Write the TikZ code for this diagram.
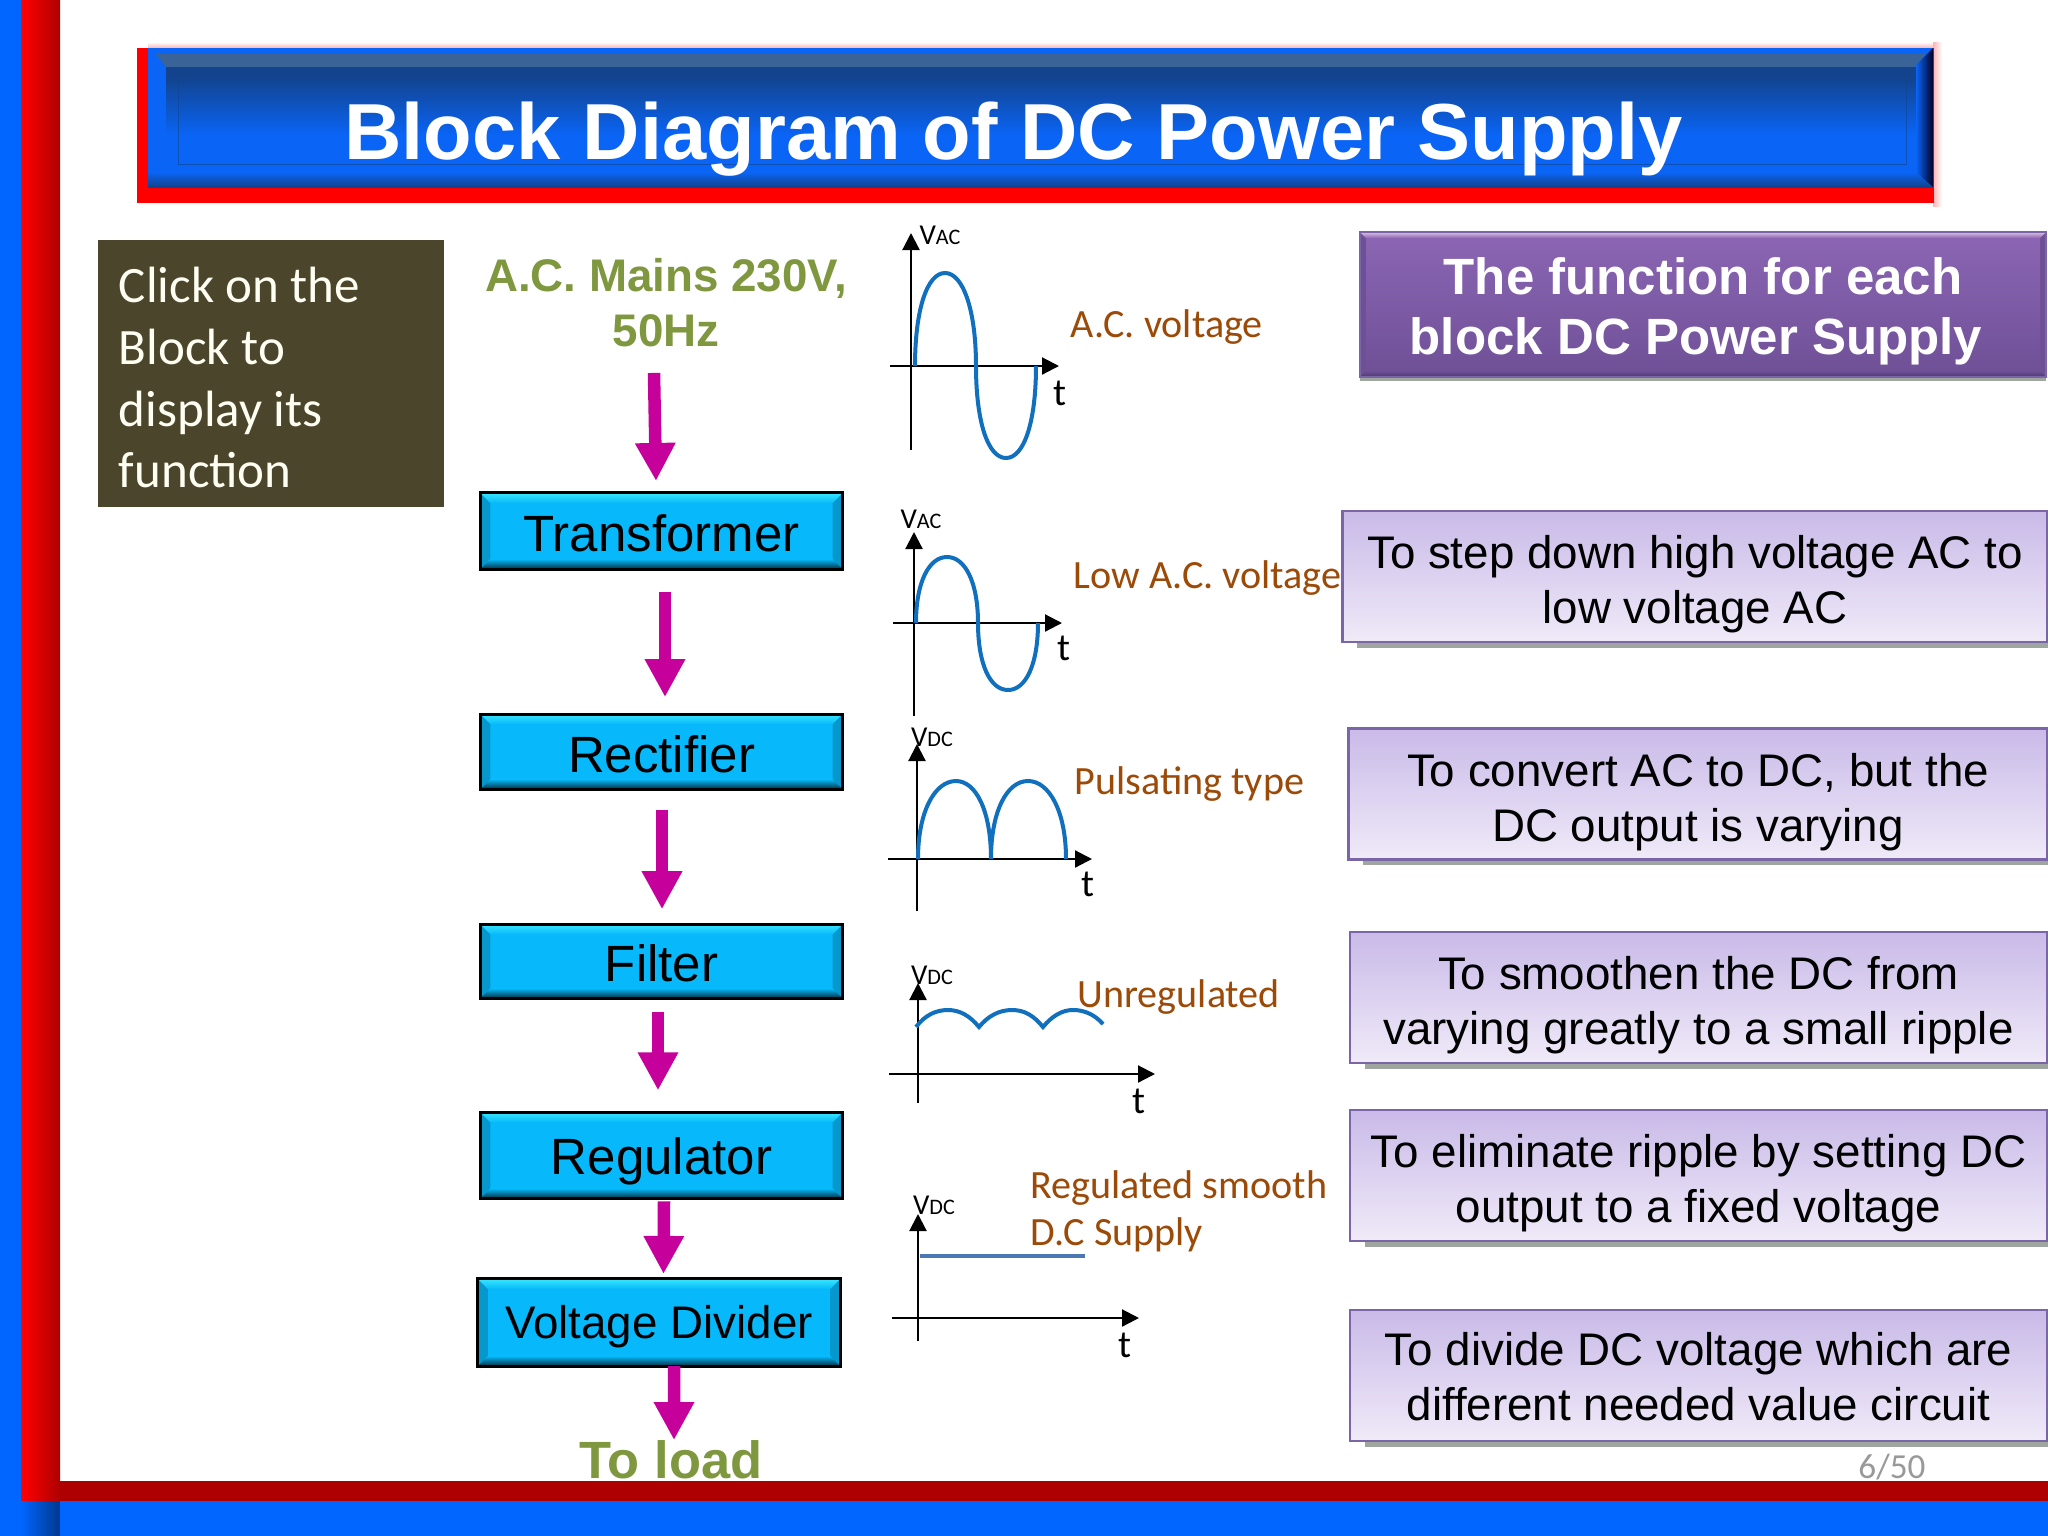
\documentclass[tikz,border=0pt]{standalone}
\usepackage{fontspec}
\setmainfont{Liberation Sans}
\newfontfamily\carlito{Carlito}
\usetikzlibrary{arrows.meta,shadows}
\definecolor{stripblue}{HTML}{0066FF}
\definecolor{stripred}{HTML}{FF0000}
\definecolor{stripdark}{HTML}{AE0000}
\definecolor{panelbright}{HTML}{0A64F5}
\definecolor{paneldark}{HTML}{12438C}
\definecolor{panelgrey}{HTML}{3A6498}
\definecolor{mossbox}{HTML}{4B462B}
\definecolor{mossgreen}{HTML}{7F983F}
\definecolor{blockcyan}{HTML}{07B9FA}
\definecolor{blocklight}{HTML}{38E6FF}
\definecolor{flowpink}{HTML}{C6009A}
\definecolor{wavebrown}{HTML}{9C4A08}
\definecolor{waveblue}{HTML}{1070BE}
\definecolor{flatblue}{HTML}{4A78B4}
\definecolor{lilacedge}{HTML}{7A66A6}
\definecolor{lilactop}{HTML}{C9BAE8}
\definecolor{lilacend}{HTML}{F0EAF8}
\definecolor{shadowgrey}{HTML}{9FA69F}
\definecolor{headertop}{HTML}{8C66B4}
\definecolor{headerbot}{HTML}{6E5096}
% bevel: top, sides, bottom, size
\newcommand{\bevelfill}[4]{%
  \path[#2] (path picture bounding box.north west) -- ++(#4,-#4) |- ([shift={(#4,#4)}]path picture bounding box.south west) -- (path picture bounding box.south west) -- cycle;
  \path[#2] (path picture bounding box.north east) -- ++(-#4,-#4) |- ([shift={(-#4,#4)}]path picture bounding box.south east) -- (path picture bounding box.south east) -- cycle;
  \path[#1] (path picture bounding box.north west) -- (path picture bounding box.north east) -- ++(-#4,-#4) -- ([shift={(#4,-#4)}]path picture bounding box.north west) -- cycle;
  \path[#3] (path picture bounding box.south west) -- (path picture bounding box.south east) -- ++(-#4,#4) -- ([shift={(#4,#4)}]path picture bounding box.south west) -- cycle;
}
\tikzset{
  task rise/.store in=\taskrise,
  task rise=14pt,
  block node/.style={draw=black,line width=.3mm,fill=blockcyan,minimum width=3.62cm,inner sep=0pt,outer sep=0pt,
    text height=.4cm,text depth=0pt,
    font=\fontsize{14.5}{18}\selectfont,
    path picture={\bevelfill{top color=blocklight,bottom color=blockcyan}{fill=blockcyan!82!black}{top color=blockcyan,bottom color=blockcyan!25!black}{1mm}}},
  task node/.style={draw=lilacedge,line width=.25mm,top color=lilactop,bottom color=lilacend,
    minimum height=1.31cm,text width=6.9cm,inner sep=0pt,outer sep=0pt,align=center,
    general shadow={shadow xshift=1.5mm,shadow yshift=-.55mm,fill=shadowgrey},
    execute at begin node={\spaceskip=.278em\rule{0pt}{\taskrise}},
    font=\fontsize{13}{15.6}\selectfont},
  flow/.style={draw=flowpink,line width=1.25mm,-{Triangle[length=3.8mm,width=3.8mm,fill=flowpink]}},
  axis/.style={draw=black,line width=.22mm,-{Triangle[length=1.7mm,width=1.7mm]}},
  wave/.style={draw=waveblue,line width=.4mm},
  note/.style={anchor=base west,inner sep=0pt,text=wavebrown,font=\carlito\fontsize{11.4}{14}\selectfont},
  vlabel/.style={inner sep=0pt,font=\carlito\fontsize{8.2}{9}\selectfont},
  tlabel/.style={inner sep=0pt,font=\carlito\fontsize{11}{12}\selectfont},
}
\newcommand{\subcaps}[1]{{\fontsize{6.3}{7}\selectfont #1}}
\begin{document}
\begin{tikzpicture}[x=0.01cm,y=-0.01cm]
  \useasboundingbox (0,0) rectangle (2048,1536);
  \fill[white] (0,0) rectangle (2048,1536);
  % slide frame
  \fill[stripblue] (0,0) rectangle (21,1536);
  \shade[left color=stripred,right color=stripdark] (21,0) rectangle (60,1501);
  \shade[left color=stripblue,right color=stripblue!55!black] (21,1501) rectangle (60,1536);
  \fill[stripdark] (60,1481) rectangle (2048,1501);
  \fill[stripblue] (60,1501) rectangle (2048,1536);
  % title bar
  \shade[top color=white,bottom color=red!30!white] (148,42) rectangle (1936,48);
  \shade[left color=red!30!white,right color=white] (1933,42) rectangle (1942,206);
  \fill[red] (137,48) rectangle (1934,203);
  \fill[panelbright] (148,48) rectangle (1933,187);
  \fill[panelgrey] (156,54) -- (1926,54) -- (1916,67) -- (166,67) -- cycle;
  \fill[paneldark] (166,67) rectangle (1916,76);
  \shade[top color=paneldark,bottom color=panelbright] (166,76) rectangle (1916,135);
  \shade[top color=panelbright,bottom color=paneldark] (148,172) -- (1933,172) -- (1933,187) -- (148,187) -- cycle;
  \fill[panelbright] (166,164) -- (1916,164) -- (1916,174) -- (156,174) -- cycle;
  \shade[left color=panelbright,right color=black!85!blue] (1916,65) -- (1933,48) -- (1933,187) -- (1916,172) -- cycle;
  \draw[paneldark,opacity=.6,line width=.1mm] (178,164) -- (178,77) -- (1906,77) -- (1906,164) -- cycle;
  \node[text=white,font=\bfseries\fontsize{22.6}{27}\selectfont,inner sep=0pt] (title) at (1013.5,139) {Block Diagram of DC Power Supply};
  % left note
  \node[fill=mossbox,minimum width=3.46cm,minimum height=2.67cm,text width=3.04cm,inner sep=0pt,align=left,text=white!95!yellow,
    execute at begin node={\spaceskip=0pt\rule{0pt}{12.5pt}},font=\carlito\fontsize{14.5}{17.5}\selectfont] (hint) at (271,373.5) {Click on the\\Block to\\display its\\function};
  % blocks
  \node[text=mossgreen,align=center,inner sep=0pt,font=\bfseries\fontsize{13}{15.6}\selectfont] (mains) at (666,303) {A.C. Mains 230V,\\50Hz};
  \node[block node,minimum height=.76cm] (transformer) at (661.5,531) {Transformer};
  \node[block node,minimum height=.75cm,text height=.41cm] (rectifier) [below of=transformer,node distance=2.205cm] {Rectifier};
  \node[block node,minimum height=.74cm,text height=.4cm] (filter) [below of=rectifier,node distance=2.095cm] {Filter};
  \node[block node,minimum height=.86cm,text height=.38cm] (regulator) [below of=filter,node distance=1.94cm] {Regulator};
  \node[block node,minimum height=.87cm,text height=.33cm,xshift=-.025cm,font=\fontsize{13}{16}\selectfont] (divider) [below of=regulator,node distance=1.67cm] {Voltage Divider};
  \node[text=mossgreen,inner sep=0pt,font=\bfseries\fontsize{14.9}{17}\selectfont] (load) at (671,1460) {To load};
  \draw[flow] ([xshift=-.12cm,yshift=-.25cm]mains.south) -- ([xshift=-.055cm,yshift=.12cm]transformer.north);
  \draw[flow] ([xshift=.035cm,yshift=-.23cm]transformer.south) -- ([xshift=.035cm,yshift=.17cm]rectifier.north);
  \draw[flow] ([xshift=.005cm,yshift=-.21cm]rectifier.south) -- ([xshift=.005cm,yshift=.15cm]filter.north);
  \draw[flow] ([xshift=-.035cm,yshift=-.14cm]filter.south) -- ([xshift=-.035cm,yshift=.22cm]regulator.north);
  \draw[flow] ([xshift=.025cm,yshift=-.03cm]regulator.south) -- ([xshift=.045cm,yshift=.05cm]divider.north);
  \draw[flow] ([xshift=.15cm]divider.south) -- ([xshift=.03cm]load.north);
  % mains wave
  \draw[axis] (911,450) -- (911,233);
  \draw[axis] (890,366) -- (1059,366);
  \draw[wave] (915,366) .. controls (915,310) and (927,273) .. (945,273) .. controls (963,273) and (976,310) .. (976,366) .. controls (976,422) and (988,458) .. (1006,458) .. controls (1024,458) and (1036,422) .. (1036,366);
  \node[vlabel] (v1) at (940,235) {V\subcaps{AC}};
  \node[tlabel] (t1) at (1060,393) {t};
  \node[note] (n1) at (1070,337) {A.C. voltage};
  % low ac wave
  \draw[axis] (914,716) -- (914,532);
  \draw[axis] (893,623) -- (1062,623);
  \draw[wave] (916,623) .. controls (916,582) and (929,557) .. (947,557) .. controls (965,557) and (978,582) .. (978,623) .. controls (978,664) and (990,690) .. (1008,690) .. controls (1026,690) and (1038,664) .. (1038,623);
  \node[vlabel] (v2) at (921,519) {V\subcaps{AC}};
  \node[tlabel] (t2) at (1064,648) {t};
  \node[note] (n2) at (1073,588) {Low A.C. voltage};
  % pulsating wave
  \draw[axis] (917,911) -- (917,744);
  \draw[axis] (888,859) -- (1092,859);
  \draw[wave] (918,859) .. controls (918,811) and (935,781) .. (956,781) .. controls (976,781) and (991,811) .. (991,859) .. controls (991,811) and (1007,781) .. (1028,781) .. controls (1049,781) and (1066,811) .. (1066,859);
  \node[vlabel] (v3) at (932,737) {V\subcaps{DC}};
  \node[tlabel] (t3) at (1088,884) {t};
  \node[note] (n3) at (1074,794) {Pulsating type};
  % unregulated wave
  \draw[axis] (918,1103) -- (918,983);
  \draw[axis] (889,1074) -- (1155,1074);
  \draw[wave] (916,1027) .. controls (925,1015) and (936,1010) .. (948,1010) .. controls (960,1010) and (970,1016) .. (979,1027) .. controls (988,1016) and (999,1010) .. (1012,1010) .. controls (1025,1010) and (1034,1016) .. (1043,1027) .. controls (1052,1016) and (1062,1010) .. (1073,1010) .. controls (1085,1010) and (1095,1015) .. (1103,1024);
  \node[vlabel] (v4) at (932,975) {V\subcaps{DC}};
  \node[tlabel] (t4) at (1139,1101) {t};
  \node[note] (n4) at (1077,1007) {Unregulated};
  % regulated wave
  \draw[axis] (918,1341) -- (918,1214);
  \draw[axis] (892,1318) -- (1139,1318);
  \draw[draw=flatblue,line width=.35mm] (920,1256) -- (1085,1256);
  \node[vlabel] (v5) at (934,1205) {V\subcaps{DC}};
  \node[tlabel] (t5) at (1125,1345) {t};
  \node[note] (n5) at (1030,1198) {Regulated smooth};
  \node[note] (n6) at (1030,1245) {D.C Supply};
  % function column
  \node[draw=lilacedge,line width=.15mm,top color=headertop,bottom color=headerbot,minimum width=6.86cm,minimum height=1.45cm,text width=6.5cm,inner sep=0pt,outer sep=0pt,align=center,text=white,
    general shadow={shadow yshift=-.35mm,fill=shadowgrey},
    execute at begin node={\spaceskip=.278em\rule{0pt}{14.3pt}},
    font=\bfseries\fontsize{14.5}{17.2}\selectfont,
    path picture={\bevelfill{top color=violet!25!white,bottom color=headertop}{fill=headerbot}{top color=headerbot,bottom color=headerbot!70!black}{.6mm}}] (header) at (1703,304.5) {The function for each\\block DC Power Supply\hspace*{.14cm}};
  \node[task node,minimum width=7.05cm] (task1) at (1695,576.5) {To step down high voltage AC to\\low voltage AC};
  \node[task node,minimum width=6.99cm] (task2) at (1698,794) {To convert AC to DC, but the\\DC output is varying};
  \node[task node,minimum width=6.97cm] (task3) at (1698.5,997.5) {To smoothen the DC from\\varying greatly to a small ripple};
  \node[task node,minimum width=6.97cm] (task4) at (1698.5,1175.5) {To eliminate ripple by setting DC\\output to a fixed voltage};
  \node[task node,minimum width=6.97cm,task rise=10.3pt] (task5) at (1698.5,1375.5) {To divide DC voltage which are\\different needed value circuit};
  \node[text=black!40,inner sep=0pt,font=\carlito\fontsize{10}{12}\selectfont] (page) at (1892,1467) {6/50};
\end{tikzpicture}
\end{document}
